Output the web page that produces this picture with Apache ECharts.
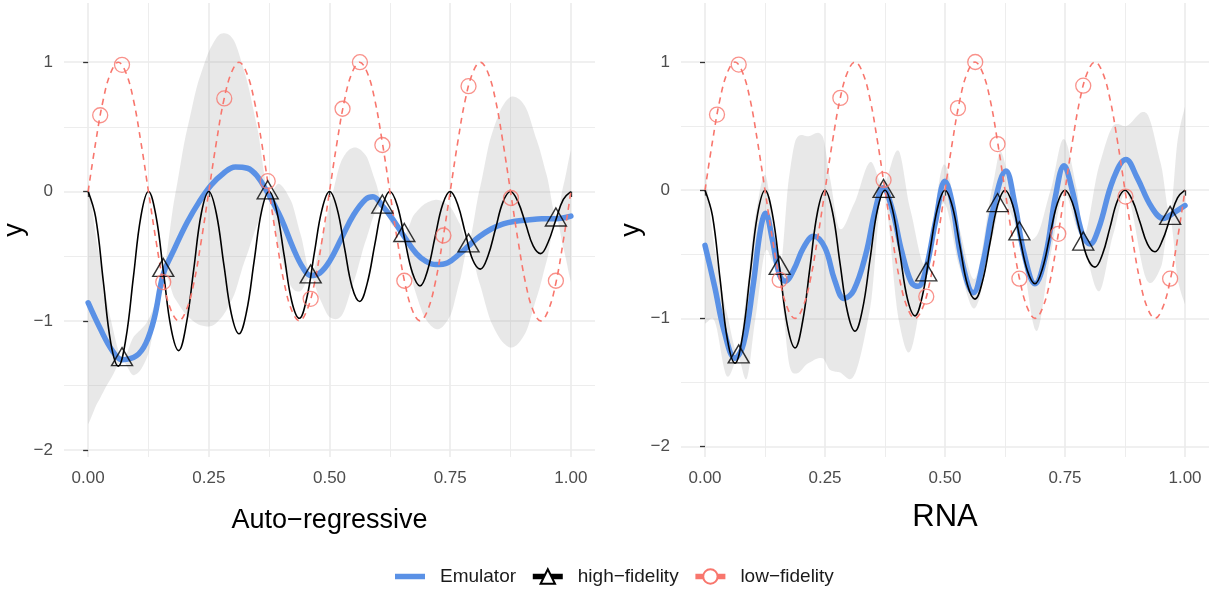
<!DOCTYPE html>
<html>
<head>
<meta charset="utf-8">
<script src="https://cdn.jsdelivr.net/npm/echarts@6/dist/echarts.min.js"></script>
<style>
html,body{margin:0;padding:0;background:#fff;}
#chart{width:1214px;height:592px;}
</style>
</head>
<body>
<div id="chart"></div>
<script>
// ---------- tick labels ----------
const xTicks = [0, 0.25, 0.5, 0.75, 1];
const xMinorTicks = [0.125, 0.375, 0.625, 0.875];
const yTicks = [-2, -1, 0, 1];
const yMinorTicks = [-1.5, -0.5, 0.5];

// ---------- true functions (shared by both panels) ----------
const curveX = [0, 0.0156, 0.0313, 0.0469, 0.0625, 0.0781, 0.0938, 0.1094, 0.125, 0.1406, 0.1563, 0.1719, 0.1875, 0.2031, 0.2188, 0.2344,
  0.25, 0.2656, 0.2813, 0.2969, 0.3125, 0.3281, 0.3438, 0.3594, 0.375, 0.3906, 0.4063, 0.4219, 0.4375, 0.4531, 0.4688, 0.4844,
  0.5, 0.5156, 0.5313, 0.5469, 0.5625, 0.5781, 0.5938, 0.6094, 0.625, 0.6406, 0.6563, 0.6719, 0.6875, 0.7031, 0.7188, 0.7344,
  0.75, 0.7656, 0.7813, 0.7969, 0.8125, 0.8281, 0.8438, 0.8594, 0.875, 0.8906, 0.9063, 0.9219, 0.9375, 0.9531, 0.9688, 0.9844, 1];
const lowFidelityY = [0, 0.38, 0.71, 0.92, 1, 0.92, 0.71, 0.38, 0, -0.38, -0.71, -0.92, -1, -0.92, -0.71, -0.38,
  0, 0.38, 0.71, 0.92, 1, 0.92, 0.71, 0.38, 0, -0.38, -0.71, -0.92, -1, -0.92, -0.71, -0.38,
  0, 0.38, 0.71, 0.92, 1, 0.92, 0.71, 0.38, 0, -0.38, -0.71, -0.92, -1, -0.92, -0.71, -0.38,
  0, 0.38, 0.71, 0.92, 1, 0.92, 0.71, 0.38, 0, -0.38, -0.71, -0.92, -1, -0.92, -0.71, -0.38, 0];
const highFidelityY = [0, -0.20, -0.69, -1.17, -1.35, -1.14, -0.66, -0.19,
  0, -0.19, -0.63, -1.06, -1.23, -1.03, -0.60, -0.17,
  0, -0.17, -0.57, -0.95, -1.10, -0.93, -0.54, -0.15,
  0, -0.15, -0.50, -0.85, -0.98, -0.82, -0.47, -0.14,
  0, -0.13, -0.44, -0.74, -0.85, -0.71, -0.41, -0.12,
  0, -0.11, -0.38, -0.63, -0.73, -0.61, -0.35, -0.10,
  0, -0.10, -0.32, -0.53, -0.60, -0.50, -0.29, -0.08,
  0, -0.08, -0.25, -0.42, -0.48, -0.39, -0.22, -0.06, 0];

// ---------- observed points ----------
const hfPointX = [0.0702, 0.1556, 0.372, 0.461, 0.6095, 0.655, 0.788, 0.969];
const hfPointY = [-1.30, -0.61, -0.01, -0.66, -0.12, -0.34, -0.42, -0.22];
const lfPointX = [0.025, 0.0702, 0.1556, 0.282, 0.372, 0.461, 0.527, 0.563, 0.6095, 0.655, 0.736, 0.788, 0.876, 0.969];
const lfPointY = [0.59, 0.98, -0.70, 0.72, 0.08, -0.83, 0.64, 1.0, 0.36, -0.69, -0.34, 0.815, -0.05, -0.69];

// ---------- Auto-regressive emulator ----------
const arEmuX = [0, 0.025, 0.05, 0.0702, 0.1, 0.12, 0.137, 0.1556, 0.178, 0.205, 0.23, 0.255, 0.28, 0.305, 0.33, 0.35, 0.372,
  0.4, 0.425, 0.445, 0.461, 0.48, 0.5, 0.525, 0.55, 0.575, 0.59, 0.6095, 0.63, 0.655, 0.68, 0.7, 0.72, 0.745, 0.77, 0.788,
  0.81, 0.835, 0.86, 0.885, 0.91, 0.94, 0.969, 1];
const arEmuY = [-0.86, -1.06, -1.23, -1.30, -1.27, -1.17, -0.98, -0.64, -0.45, -0.24, -0.08, 0.05, 0.14, 0.19, 0.18, 0.12, -0.01,
  -0.21, -0.44, -0.59, -0.65, -0.63, -0.54, -0.36, -0.18, -0.06, -0.04, -0.11, -0.21, -0.35, -0.48, -0.54, -0.565, -0.55, -0.48, -0.42,
  -0.35, -0.29, -0.25, -0.23, -0.22, -0.21, -0.21, -0.19];
const arBandX = [0, 0.02, 0.045, 0.0702, 0.095, 0.125, 0.1556, 0.18, 0.205, 0.23, 0.255, 0.275, 0.3, 0.325, 0.35, 0.372,
  0.395, 0.42, 0.44, 0.461, 0.48, 0.5, 0.525, 0.55, 0.575, 0.595, 0.6095, 0.63, 0.655, 0.675, 0.7, 0.725, 0.75, 0.77, 0.788,
  0.81, 0.835, 0.86, 0.88, 0.905, 0.93, 0.95, 0.969, 0.985, 1];
const arBandLower = [-1.80, -1.63, -1.46, -1.31, -1.42, -1.25, -0.65, -0.83, -0.96, -1.03, -1.04, -0.98, -0.82, -0.53, -0.26, -0.02,
  -0.44, -0.73, -0.77, -0.66, -0.83, -0.97, -0.96, -0.70, -0.38, -0.16, -0.12, -0.26, -0.35, -0.74, -0.99, -1.065, -0.96, -0.69, -0.42,
  -0.70, -1.01, -1.17, -1.205, -1.10, -0.81, -0.535, -0.21, -0.445, -0.70];
const arBandUpper = [0.08, -0.43, -0.96, -1.29, -1.12, -0.99, -0.63, -0.03, 0.48, 0.87, 1.12, 1.22, 1.18, 0.91, 0.50, 0.00,
  0.06, -0.07, -0.33, -0.64, -0.43, -0.11, 0.24, 0.34, 0.28, 0.08, -0.10, -0.16, -0.33, -0.18, -0.09, -0.065, -0.12, -0.25, -0.40,
  0.00, 0.43, 0.67, 0.735, 0.66, 0.39, 0.125, -0.19, 0.055, 0.32];

// ---------- RNA emulator ----------
const rnaEmuX = [0, 0.02, 0.04, 0.0625, 0.08, 0.1, 0.115, 0.126, 0.14, 0.155, 0.167, 0.185, 0.205, 0.226, 0.25, 0.27, 0.29, 0.31,
  0.335, 0.355, 0.371, 0.39, 0.41, 0.43, 0.444, 0.46, 0.48, 0.5, 0.515, 0.535, 0.559, 0.58, 0.6, 0.627, 0.645, 0.665, 0.6875,
  0.71, 0.73, 0.748, 0.765, 0.785, 0.802, 0.82, 0.85, 0.877, 0.9, 0.93, 0.955, 0.975, 1];
const rnaEmuY = [-0.43, -0.75, -1.10, -1.31, -1.20, -0.75, -0.32, -0.18, -0.38, -0.66, -0.71, -0.62, -0.45, -0.36, -0.45, -0.70, -0.845, -0.78,
  -0.50, -0.15, 0.02, -0.15, -0.48, -0.72, -0.75, -0.62, -0.25, 0.07, -0.10, -0.55, -0.80, -0.55, -0.15, 0.15, -0.10, -0.50, -0.73,
  -0.50, -0.05, 0.19, 0.00, -0.33, -0.42, -0.30, 0.08, 0.24, 0.10, -0.13, -0.22, -0.18, -0.12];
const rnaBandX = [0, 0.02, 0.045, 0.0694, 0.087, 0.105, 0.125, 0.14, 0.1556, 0.175, 0.19, 0.215, 0.245, 0.26, 0.28, 0.31, 0.344,
  0.371, 0.403, 0.427, 0.46, 0.497, 0.53, 0.5625, 0.6, 0.617, 0.655, 0.69, 0.72, 0.747, 0.775, 0.788, 0.821, 0.85, 0.878, 0.92,
  0.95, 0.969, 0.985, 1];
const rnaBandLower = [-1.04, -1.02, -1.45, -1.31, -1.47, -1.0, -0.48, -0.55, -0.68, -1.35, -1.43, -1.35, -1.31, -1.40, -1.42, -1.45, -0.92,
  0.0, -1.0, -1.26, -0.66, -0.10, -0.60, -0.92, -0.35, -0.08, -0.37, -1.10, -0.50, -0.02, -0.30, -0.42, -0.79, -0.35, -0.02, -0.70,
  -0.60, -0.22, -0.70, -0.89];
const rnaBandUpper = [0.15, -0.45, -0.95, -1.27, -0.78, -0.20, 0.12, -0.20, -0.64, 0.10, 0.40, 0.42, 0.42, 0.10, -0.30, -0.11, 0.22,
  0.04, 0.31, -0.14, -0.58, 0.20, -0.30, -0.69, 0.05, 0.30, -0.33, -0.36, 0.00, 0.40, 0.00, -0.38, 0.19, 0.50, 0.50, 0.60,
  0.20, -0.18, 0.40, 0.65];

// ---------- styling ----------
const FONT = '"Liberation Sans", Arial, Helvetica, sans-serif';
const BLUE = '#5A91E6';
const RED = '#F8766D';
const GRID_C = '#EBEBEB';
const BAND_C = 'rgba(150,150,150,0.22)';
const MINUS = '\u2212';

const pairs = (xs, ys) => xs.map((x, i) => [x, ys[i]]);
const fmtY = v => (v < 0 ? MINUS + Math.abs(v) : String(v));

// Smooth a pixel polyline (x increasing) with cubic Hermite segments, for drawing only.
function smoothPixels(P) {
  const n = P.length, out = [];
  const slope = i => {
    const a = P[Math.max(i - 1, 0)], b = P[Math.min(i + 1, n - 1)];
    return (b[1] - a[1]) / ((b[0] - a[0]) || 1);
  };
  for (let i = 0; i < n - 1; i++) {
    const p1 = P[i], p2 = P[i + 1], h = p2[0] - p1[0];
    const m1 = slope(i) * 0.85, m2 = slope(i + 1) * 0.85;
    const steps = 10;
    for (let s = 0; s < steps; s++) {
      const t = s / steps, t2 = t * t, t3 = t2 * t;
      const h00 = 2 * t3 - 3 * t2 + 1, h10 = t3 - 2 * t2 + t, h01 = -2 * t3 + 3 * t2, h11 = t3 - t2;
      out.push([p1[0] + h * t, h00 * p1[1] + h10 * h * m1 + h01 * p2[1] + h11 * h * m2]);
    }
  }
  out.push(P[n - 1]);
  return out;
}

function bandSeries(xs, lo, hi, xi, yi) {
  return {
    type: 'custom', xAxisIndex: xi, yAxisIndex: yi, silent: true, z: 1, clip: true,
    data: xs.map((x, i) => [x, lo[i], hi[i]]),
    encode: {x: 0, y: [1, 2]},
    renderItem: (params, api) => {
      if (params.dataIndex !== 0) return null;
      const up = smoothPixels(xs.map((x, i) => api.coord([x, hi[i]])));
      const dn = smoothPixels(xs.map((x, i) => api.coord([x, lo[i]])));
      return {
        type: 'polygon',
        shape: {points: up.concat(dn.reverse())},
        style: {fill: BAND_C, stroke: null}
      };
    }
  };
}

const panels = [
  {name: 'Auto' + MINUS + 'regressive', nameSize: 27, nameGap: 50, left: 63, width: 532, ymin: -2.053, ymax: 1.458,
   emuX: arEmuX, emuY: arEmuY, bandX: arBandX, lo: arBandLower, hi: arBandUpper},
  {name: 'RNA', nameSize: 31, nameGap: 45, left: 681, width: 528, ymin: -2.081, ymax: 1.460,
   emuX: rnaEmuX, emuY: rnaEmuY, bandX: rnaBandX, lo: rnaBandLower, hi: rnaBandUpper}
];

const grid = [], xAxis = [], yAxis = [], series = [];
panels.forEach((p, g) => {
  grid.push({left: p.left, top: 3, width: p.width, height: 454, containLabel: false});
  xAxis.push({
    type: 'value', gridIndex: g, min: -0.05, max: 1.05,
    axisLine: {show: false},
    axisTick: {show: true, customValues: xTicks, length: 5.5, lineStyle: {color: '#333333', width: 1.3}},
    axisLabel: {show: true, customValues: xTicks, formatter: v => v.toFixed(2), color: '#4D4D4D', fontSize: 17, fontFamily: FONT, margin: 13},
    splitLine: {show: true, lineStyle: {color: GRID_C, width: 1.6}},
    name: p.name, nameLocation: 'middle', nameGap: p.nameGap,
    nameTextStyle: {fontSize: p.nameSize, color: '#000', fontFamily: FONT}
  });
  xAxis.push({
    type: 'value', gridIndex: g, min: -0.05, max: 1.05, position: 'bottom',
    axisLine: {show: false},
    axisTick: {show: false, customValues: xMinorTicks},
    axisLabel: {show: false, customValues: xMinorTicks},
    splitLine: {show: true, lineStyle: {color: GRID_C, width: 0.9}}
  });
  yAxis.push({
    type: 'value', gridIndex: g, min: p.ymin, max: p.ymax,
    axisLine: {show: false},
    axisTick: {show: true, customValues: yTicks, length: 5, lineStyle: {color: '#333333', width: 1.3}},
    axisLabel: {show: true, customValues: yTicks, formatter: fmtY, color: '#4D4D4D', fontSize: 17, fontFamily: FONT, margin: 11},
    splitLine: {show: true, lineStyle: {color: GRID_C, width: 1.6}},
    name: 'y', nameLocation: 'middle', nameGap: 36, nameRotate: 90,
    nameTextStyle: {fontSize: 27, color: '#000', fontFamily: FONT}
  });
  yAxis.push({
    type: 'value', gridIndex: g, min: p.ymin, max: p.ymax, position: 'left',
    axisLine: {show: false},
    axisTick: {show: false, customValues: yMinorTicks},
    axisLabel: {show: false, customValues: yMinorTicks},
    splitLine: {show: true, lineStyle: {color: GRID_C, width: 0.9}}
  });
  const xi = g * 2, yi = g * 2;
  series.push(bandSeries(p.bandX, p.lo, p.hi, xi, yi));
  series.push({
    name: 'Emulator', type: 'line', xAxisIndex: xi, yAxisIndex: yi,
    data: pairs(p.emuX, p.emuY), symbol: 'none', smooth: 0.4,
    lineStyle: {color: BLUE, width: 5.5, cap: 'round'}, itemStyle: {color: BLUE}, z: 3
  });
  series.push({
    name: 'high' + MINUS + 'fidelity', type: 'line', xAxisIndex: xi, yAxisIndex: yi,
    data: pairs(curveX, highFidelityY), symbol: 'emptyTriangle', showSymbol: false, smooth: 0.4,
    lineStyle: {color: '#000', width: 1.6}, itemStyle: {color: '#000'}, z: 4
  });
  series.push({
    name: 'low' + MINUS + 'fidelity', type: 'line', xAxisIndex: xi, yAxisIndex: yi,
    data: pairs(curveX, lowFidelityY), symbol: 'emptyCircle', showSymbol: false, smooth: 0.4,
    lineStyle: {color: RED, width: 1.6, type: [6, 5]}, itemStyle: {color: RED}, z: 5
  });
  series.push({
    name: 'hfPoints', type: 'scatter', xAxisIndex: xi, yAxisIndex: yi,
    data: pairs(hfPointX, hfPointY), symbol: 'triangle', symbolSize: [21, 18], symbolOffset: [0, -3],
    itemStyle: {color: 'rgba(0,0,0,0)', borderColor: '#000', borderWidth: 1.4}, z: 6
  });
  series.push({
    name: 'lfPoints', type: 'scatter', xAxisIndex: xi, yAxisIndex: yi,
    data: pairs(lfPointX, lfPointY), symbol: 'circle', symbolSize: 15,
    itemStyle: {color: 'rgba(0,0,0,0)', borderColor: RED, borderWidth: 1.3}, z: 6
  });
});

const chart = echarts.init(document.getElementById('chart'), null, {renderer: 'canvas'});
chart.setOption({
  animation: false,
  backgroundColor: '#fff',
  textStyle: {fontFamily: FONT},
  grid, xAxis, yAxis, series,
  legend: {
    left: 395, top: 567, padding: 0, itemWidth: 30, itemHeight: 18, itemGap: 14, selectedMode: false,
    textStyle: {fontSize: 19, color: '#1A1A1A', fontFamily: FONT, padding: [0, 0, 0, 10]},
    data: [
      {name: 'Emulator', icon: 'path://M0,0H30V5.5H0Z'},
      {name: 'high' + MINUS + 'fidelity', lineStyle: {width: 5.5}},
      {name: 'low' + MINUS + 'fidelity', lineStyle: {width: 5.5, type: 'solid'}}
    ]
  }
});
</script>
</body>
</html>
